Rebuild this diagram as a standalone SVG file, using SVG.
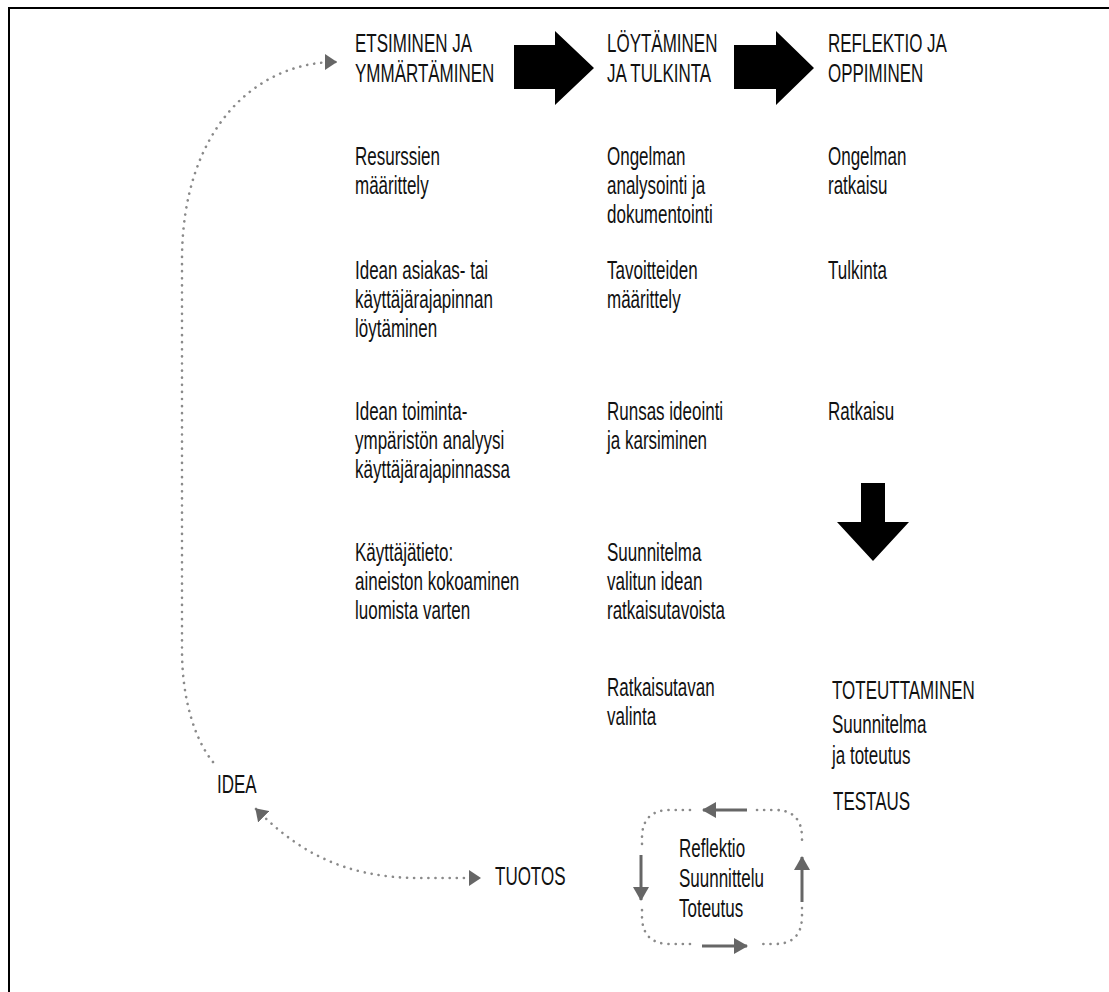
<svg xmlns="http://www.w3.org/2000/svg" width="1109" height="992" viewBox="0 0 1109 992">
<style>
text{font-family:"Liberation Sans",Arial,sans-serif;font-size:25px;fill:#111}
.dot{fill:none;stroke:#8a8a8a;stroke-width:2.6;stroke-linecap:round;stroke-dasharray:0.1 7}
.garr{stroke:#666;stroke-width:3;fill:none}
.big{fill:#000}
</style>
<defs>
<marker id="tri" viewBox="0 0 12 16" refX="11" refY="8" markerWidth="12" markerHeight="16" markerUnits="userSpaceOnUse" orient="auto-start-reverse">
<path d="M0,0 L12,8 L0,16 Z" fill="#666"/>
</marker>
<marker id="ah" viewBox="0 0 14 16" refX="13" refY="8" markerWidth="14" markerHeight="16" markerUnits="userSpaceOnUse" orient="auto">
<path d="M0,0 L14,8 L0,16 Z" fill="#666"/>
</marker>
</defs>
<rect width="1109" height="992" fill="#fff"/>
<path d="M9 992 V8 H1109" fill="none" stroke="#000" stroke-width="2"/>

<g id="connectors">
<path class="dot" d="M213 762 C195 740 182 700 182 650 L182 260 C182 130 255 62 336 62" marker-end="url(#tri)"/>
<path class="dot" d="M256 809 C295 848 340 878 420 878 L480 878" marker-start="url(#tri)" marker-end="url(#tri)"/>
<polygon class="big" points="514,45 555,45 555,31 594,68 555,105 555,89 514,89"/>
<polygon class="big" points="734,45 776,45 776,31 814,68 776,105 776,89 734,89"/>
<polygon class="big" points="861,483 885,483 885,522 909,522 873,561 837,522 861,522"/>
</g>

<g id="loop">
<path class="dot" d="M690 810 L670 810 Q642 810 642 838 L642 848"/>
<path class="dot" d="M757 810 L775 810 Q802 810 802 838 L802 846"/>
<path class="dot" d="M802 908 L802 916 Q802 944 775 944 L757 944"/>
<path class="dot" d="M690 944 L670 944 Q642 944 642 916 L642 908"/>
<line class="garr" x1="747" y1="810" x2="703" y2="810" marker-end="url(#ah)"/>
<line class="garr" x1="702" y1="946" x2="747" y2="946" marker-end="url(#ah)"/>
<line class="garr" x1="641" y1="855" x2="641" y2="900" marker-end="url(#ah)"/>
<line class="garr" x1="802" y1="902" x2="802" y2="857" marker-end="url(#ah)"/>
<text transform="translate(679,857) scale(0.68,1)">Reflektio</text>
<text transform="translate(679,887) scale(0.68,1)">Suunnittelu</text>
<text transform="translate(679,917) scale(0.68,1)">Toteutus</text>
</g>

<g id="idea"><text transform="translate(217,793) scale(0.68,1)">IDEA</text></g>
<g id="tuotos"><text transform="translate(495,885) scale(0.68,1)">TUOTOS</text></g>

<g id="h1">
<text transform="translate(355,52) scale(0.68,1)">ETSIMINEN JA</text>
<text transform="translate(355,82) scale(0.68,1)">YMMÄRTÄMINEN</text>
</g>
<g id="h2">
<text transform="translate(607,52) scale(0.68,1)">LÖYTÄMINEN</text>
<text transform="translate(607,82) scale(0.68,1)">JA TULKINTA</text>
</g>
<g id="h3">
<text transform="translate(828,52) scale(0.68,1)">REFLEKTIO JA</text>
<text transform="translate(828,82) scale(0.68,1)">OPPIMINEN</text>
</g>

<g id="c1a">
<text transform="translate(355,165) scale(0.68,1)">Resurssien</text>
<text transform="translate(355,194) scale(0.68,1)">määrittely</text>
</g>
<g id="c1b">
<text transform="translate(355,279) scale(0.68,1)">Idean asiakas- tai</text>
<text transform="translate(355,308) scale(0.68,1)">käyttäjärajapinnan</text>
<text transform="translate(355,337) scale(0.68,1)">löytäminen</text>
</g>
<g id="c1c">
<text transform="translate(355,420) scale(0.68,1)">Idean toiminta-</text>
<text transform="translate(355,449) scale(0.68,1)">ympäristön analyysi</text>
<text transform="translate(355,478) scale(0.68,1)">käyttäjärajapinnassa</text>
</g>
<g id="c1d">
<text transform="translate(355,561) scale(0.68,1)">Käyttäjätieto:</text>
<text transform="translate(355,590) scale(0.68,1)">aineiston kokoaminen</text>
<text transform="translate(355,619) scale(0.68,1)">luomista varten</text>
</g>

<g id="c2a">
<text transform="translate(607,165) scale(0.68,1)">Ongelman</text>
<text transform="translate(607,194) scale(0.68,1)">analysointi ja</text>
<text transform="translate(607,223) scale(0.68,1)">dokumentointi</text>
</g>
<g id="c2b">
<text transform="translate(607,279) scale(0.68,1)">Tavoitteiden</text>
<text transform="translate(607,308) scale(0.68,1)">määrittely</text>
</g>
<g id="c2c">
<text transform="translate(607,420) scale(0.68,1)">Runsas ideointi</text>
<text transform="translate(607,449) scale(0.68,1)">ja karsiminen</text>
</g>
<g id="c2d">
<text transform="translate(607,561) scale(0.68,1)">Suunnitelma</text>
<text transform="translate(607,590) scale(0.68,1)">valitun idean</text>
<text transform="translate(607,619) scale(0.68,1)">ratkaisutavoista</text>
</g>
<g id="c2e">
<text transform="translate(607,696) scale(0.68,1)">Ratkaisutavan</text>
<text transform="translate(607,725) scale(0.68,1)">valinta</text>
</g>

<g id="c3a">
<text transform="translate(828,165) scale(0.68,1)">Ongelman</text>
<text transform="translate(828,194) scale(0.68,1)">ratkaisu</text>
</g>
<g id="c3b"><text transform="translate(828,279) scale(0.68,1)">Tulkinta</text></g>
<g id="c3c"><text transform="translate(828,420) scale(0.68,1)">Ratkaisu</text></g>
<g id="c3d">
<text transform="translate(832,699) scale(0.68,1)">TOTEUTTAMINEN</text>
<text transform="translate(832,733) scale(0.68,1)">Suunnitelma</text>
<text transform="translate(832,764) scale(0.68,1)">ja toteutus</text>
<text transform="translate(833,810) scale(0.68,1)">TESTAUS</text>
</g>
</svg>
